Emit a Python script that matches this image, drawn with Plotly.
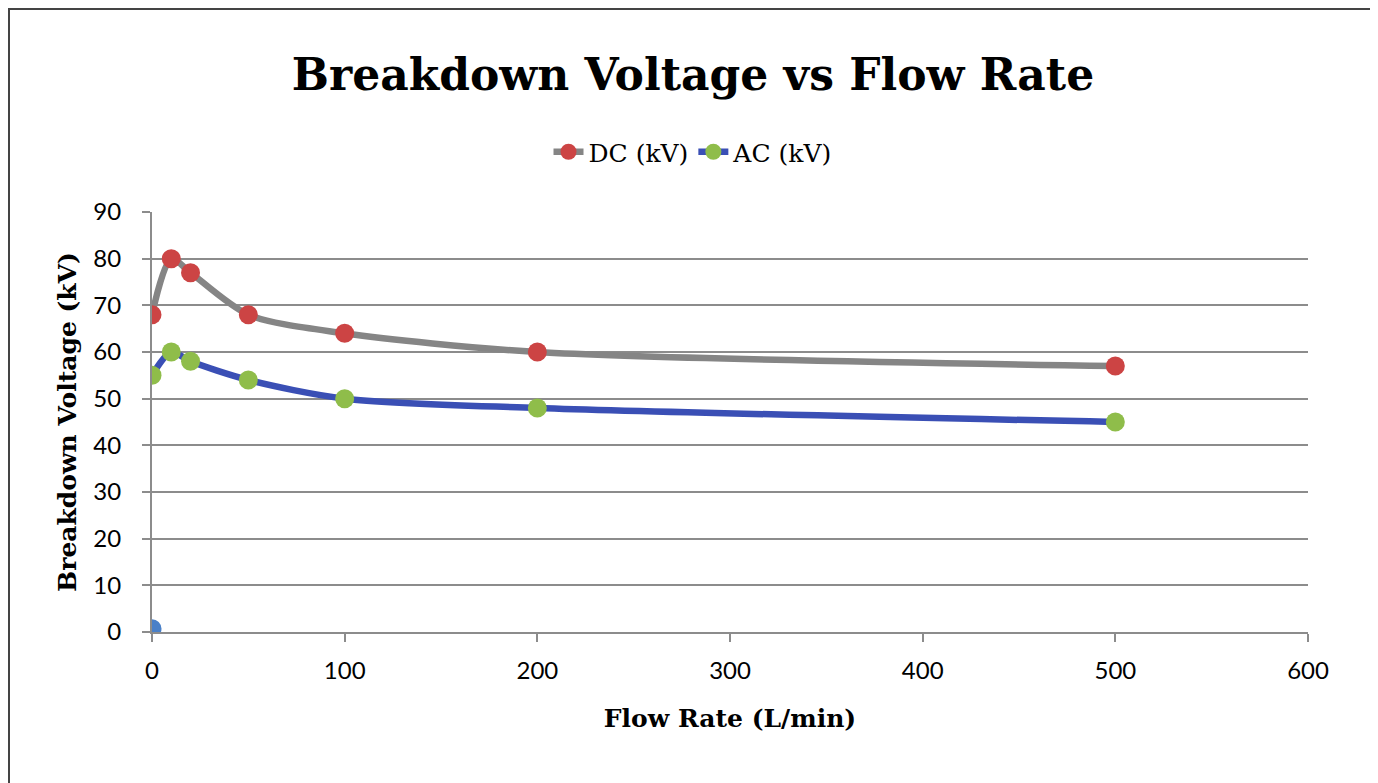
import plotly.graph_objects as go

flow_rate = [0, 10, 20, 50, 100, 200, 500]
dc_kv = [68, 80, 77, 68, 64, 60, 57]
ac_kv = [55, 60, 58, 54, 50, 48, 45]
extra_x = [0]
extra_y = [0.7]

serif = "DejaVu Serif"
sans = "Lato"

W, H = 1370, 775
L, T, R, B = 144, 204, 70, 151
PW, PH = W - L - R, H - T - B

fig = go.Figure()
fig.add_trace(go.Scatter(x=flow_rate, y=dc_kv, name="DC (kV)", mode="lines+markers",
                         line=dict(color="#858585", width=6.5, shape="spline", smoothing=0.8),
                         marker=dict(color="#cc4444", size=19)))
fig.add_trace(go.Scatter(x=flow_rate, y=ac_kv, name="AC (kV)", mode="lines+markers",
                         line=dict(color="#3a4fb5", width=6.5, shape="spline", smoothing=0.8),
                         marker=dict(color="#8fbd4a", size=19)))
fig.add_trace(go.Scatter(x=extra_x, y=extra_y, mode="markers", showlegend=False,
                         marker=dict(color="#4a80c8", size=19)))

fig.update_layout(
    width=W, height=H,
    margin=dict(l=L, r=R, t=T, b=B),
    paper_bgcolor="white", plot_bgcolor="white",
    title=dict(text="<b>Breakdown Voltage vs Flow Rate</b>", x=0.5, xanchor="center",
               y=1 - 67 / H, yanchor="middle",
               font=dict(family=serif, size=44, color="black")),
    legend=dict(orientation="h", x=0.468, xanchor="center", y=1 - 144 / H, yref="container",
                yanchor="middle", font=dict(family=serif, size=25, color="black"),
                itemwidth=30, tracegroupgap=0),
    xaxis=dict(range=[0, 600], dtick=100, showgrid=False, showline=True, linecolor="#8c8c8c",
               linewidth=2, ticks="outside", ticklen=8, tickcolor="#8c8c8c", tickwidth=2,
               zeroline=False, ticklabelstandoff=8,
               tickfont=dict(family=sans, size=24, color="black"),
               title=dict(text="<b>Flow Rate (L/min)</b>", standoff=27,
                          font=dict(family=serif, size=25, color="black"))),
    yaxis=dict(range=[0, 90], dtick=10, showgrid=True, gridcolor="#8c8c8c", gridwidth=2,
               showline=True, linecolor="#8c8c8c", linewidth=2, ticks="outside", ticklen=8,
               tickcolor="#8c8c8c", tickwidth=2, zeroline=False, ticklabelstandoff=16,
               tickfont=dict(family=sans, size=24, color="black"),
               title=dict(text="<b>Breakdown Voltage (kV)</b>", standoff=10,
                          font=dict(family=serif, size=25, color="black"))),
    shapes=[dict(type="rect", xref="paper", yref="paper",
                 x0=(1 - L) / PW, x1=(1363 - L) / PW,
                 y0=(T + PH - 900) / PH, y1=(T + PH - 1) / PH,
                 line=dict(color="#444444", width=2), layer="below")],
)

fig.write_html("out.html")
